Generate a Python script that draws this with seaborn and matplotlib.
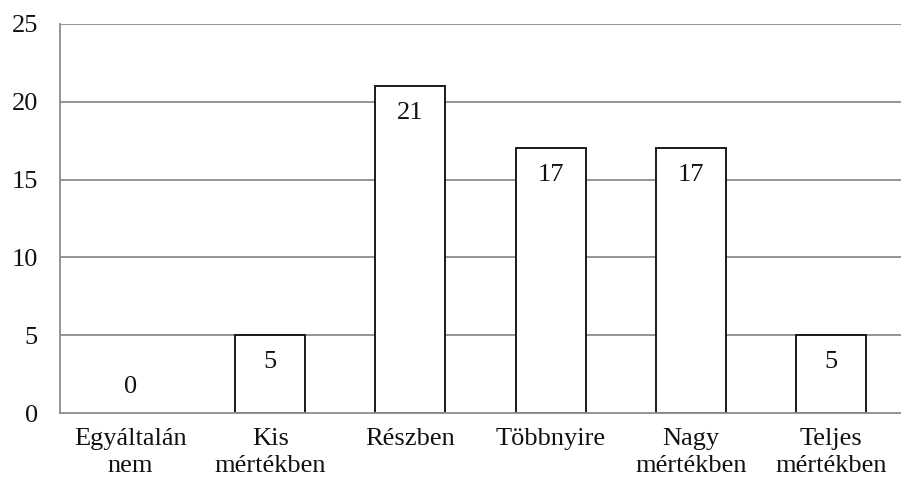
import matplotlib
matplotlib.use("Agg")
import matplotlib.pyplot as plt
import seaborn as sns
import pandas as pd
import numpy as np

categories = ["Egyáltalán\nnem", "Kis\nmértékben", "Részben", "Többnyire",
              "Nagy\nmértékben", "Teljes\nmértékben"]
values = [0, 5, 21, 17, 17, 5]
y_ticks = [0, 5, 10, 15, 20, 25]

sns.set_theme(style="white")
plt.rcParams["font.family"] = ["Liberation Serif", "DejaVu Serif"]

df = pd.DataFrame({"cat": categories, "val": values})

fig = plt.figure(figsize=(9.01, 4.87), dpi=100)
ax = fig.add_axes([60 / 901, 74 / 487, 841 / 901, 389 / 487])

sns.barplot(data=df, x="cat", y="val", color="white", edgecolor="#1a1a1a",
            linewidth=1.4, width=0.5, ax=ax, zorder=3)
# a zero-height bar should not leave an outline on the baseline
for p in ax.patches:
    if p.get_height() == 0:
        p.set_linewidth(0)

grid_c = "#8c8c8c"
txt_c = "#111111"
ax.set_ylim(0, 25)
ax.set_xlim(-0.5, len(categories) - 0.5)
ax.set_yticks(y_ticks)
ax.set_yticklabels([str(t) for t in y_ticks], fontsize=19, color=txt_c)
for t in y_ticks[1:]:
    ax.axhline(t, color=grid_c, lw=1.3, zorder=1)

ax.set_xticks(range(len(categories)))
ax.set_xticklabels(categories, fontsize=19, color=txt_c, linespacing=1.3)
ax.set_xticks(np.arange(-0.5, len(categories)), minor=True)
ax.tick_params(axis="x", which="major", length=0, pad=11)
ax.tick_params(axis="x", which="minor", length=5, width=1.3, color=grid_c, direction="out")
ax.tick_params(axis="y", length=8, width=1.3, color=grid_c, direction="out", pad=8)

for s in ["top", "right"]:
    ax.spines[s].set_visible(False)
for s in ["left", "bottom"]:
    ax.spines[s].set_color(grid_c)
    ax.spines[s].set_linewidth(1.3)
    ax.spines[s].set_zorder(4)

ax.set_xlabel("")
ax.set_ylabel("")

for i, v in enumerate(values):
    dy = -19 if v > 0 else 19
    ax.annotate(str(v), (i, v), xytext=(0, dy), textcoords="offset points",
                ha="center", va="center", fontsize=19, color=txt_c, zorder=5)

fig.savefig("out.png", dpi=100)
